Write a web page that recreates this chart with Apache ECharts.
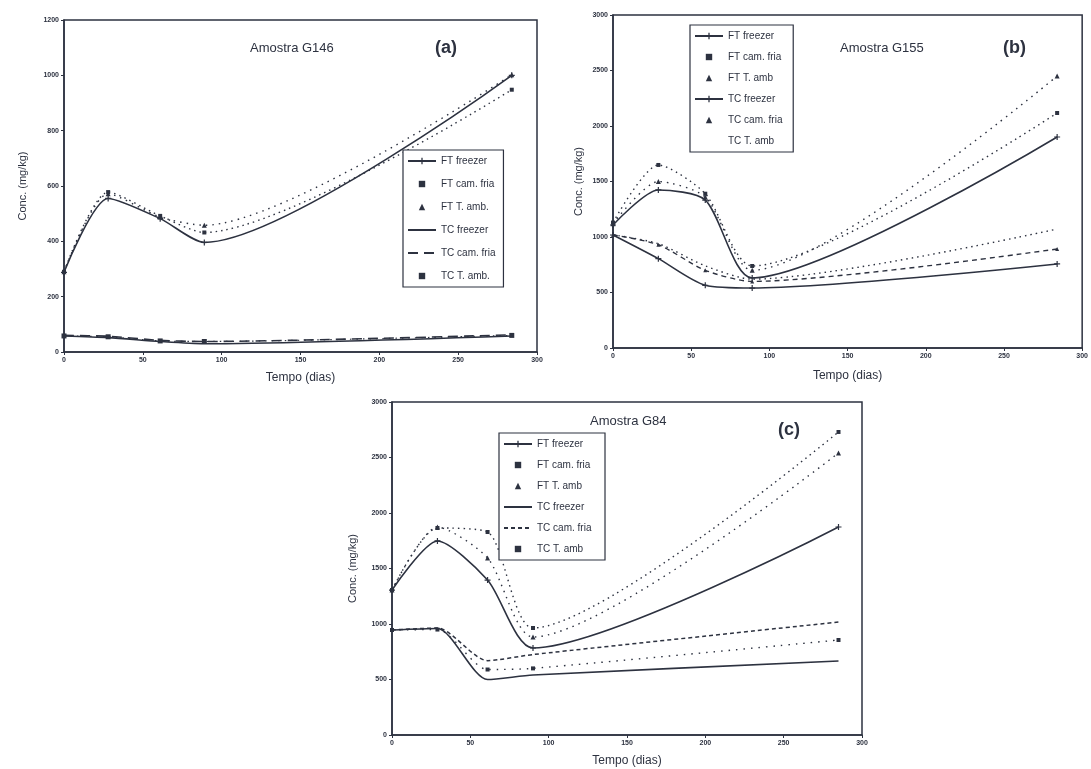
<!DOCTYPE html>
<html>
<head>
<meta charset="utf-8">
<script src="https://cdn.jsdelivr.net/npm/echarts@6/dist/echarts.min.js"></script>
<style>
  html, body { margin: 0; padding: 0; background: #fff; }
  #chart { width: 1091px; height: 769px; }
</style>
</head>
<body>
<div id="chart"></div>
<script>
// tempo (dias) de cada amostragem
var diasA = [0, 28, 61, 89, 284];
var diasB = [0, 29, 59, 89, 284];
var diasC = [0, 29, 61, 90, 285];

// Amostra G146 (a)
var aFTfreezer = [288, 555, 482, 396, 1000];
var aFTcam = [290, 578, 492, 432, 948];
var aFTamb = [290, 572, 488, 458, 1002];
var aTCfreezer = [58, 52, 38, 30, 58];
var aTCcam = [60, 57, 42, 38, 62];
var aTCamb = [58, 55, 40, 38, 60];

// Amostra G155 (b)
var bFTfreezer = [1108, 1424, 1333, 631, 1901];
var bFTcam = [1130, 1649, 1390, 739, 2117];
var bFTamb = [1120, 1500, 1360, 700, 2450];
var bTCfreezer = [1018, 805, 565, 540, 757];
var bTCcam = [1020, 930, 700, 600, 892];
var bTCamb = [1020, 940, 740, 620, 1072];

// Amostra G84 (c)
var cFTfreezer = [1306, 1748, 1396, 784, 1874];
var cFTcam = [1306, 1865, 1829, 964, 2730];
var cFTamb = [1306, 1874, 1595, 883, 2541];
var cTCfreezer = [946, 960, 500, 540, 667];
var cTCcam = [946, 964, 670, 725, 1018];
var cTCamb = [946, 950, 590, 600, 856];

var ink = "#2d3240";
var plus = "path://M4,0h2v4h4v2h-4v4h-2v-4h-4v-2h4z";

function pares(dias, vals) {
  return vals.map(function(v, i) {
    return [dias[i], v];
  });
}

function serie(name, idx, dias, vals, symbol, size, line) {
  return {
    name: name,
    type: "line",
    xAxisIndex: idx,
    yAxisIndex: idx,
    smooth: 0.25,
    data: pares(dias, vals),
    symbol: symbol,
    symbolSize: size,
    showSymbol: symbol !== "none",
    itemStyle: { color: ink },
    lineStyle: { color: ink, width: line.width, type: line.type },
    z: 3
  };
}

function xAxisDe(idx) {
  return {
    gridIndex: idx,
    type: "value",
    min: 0,
    max: 300,
    interval: 50,
    name: "Tempo (dias)",
    nameLocation: "middle",
    nameGap: [20, 22, 20][idx],
    nameTextStyle: { fontSize: 12, color: ink, fontFamily: "Liberation Sans" },
    axisLine: { lineStyle: { color: ink, width: 1.5 } },
    axisTick: { show: true, length: 3, lineStyle: { color: ink } },
    axisLabel: { fontSize: 7, color: ink, fontWeight: "bold", margin: 5, formatter: function(v) { return String(v); } },
    splitLine: { show: false }
  };
}

function yAxisDe(idx, max, step) {
  return {
    gridIndex: idx,
    type: "value",
    min: 0,
    max: max,
    interval: step,
    name: "Conc. (mg/kg)",
    nameLocation: "middle",
    nameGap: [36, 29, 34][idx],
    nameTextStyle: { fontSize: 11, color: ink, fontFamily: "Liberation Sans" },
    axisLine: { lineStyle: { color: ink, width: 1.5 } },
    axisTick: { show: true, length: 3, lineStyle: { color: ink } },
    axisLabel: { fontSize: 7, color: ink, fontWeight: "bold", margin: 5, formatter: function(v) { return String(v); } },
    splitLine: { show: false }
  };
}

function legendaDe(nomes, left, top, w, gap) {
  return {
    orient: "vertical",
    left: left,
    top: top,
    width: w,
    padding: [6, 8, 6, 4],
    itemGap: gap,
    itemWidth: 28,
    itemHeight: 8,
    backgroundColor: "#fff",
    borderColor: ink,
    borderWidth: 1.2,
    borderRadius: 0,
    selectedMode: false,
    textStyle: { fontSize: 10, color: ink, fontFamily: "Liberation Sans" },
    data: nomes
  };
}

// item de legenda so com marcador / so com linha
function marca(nome) {
  return { name: nome, lineStyle: { width: 0, opacity: 0 } };
}
function linha(nome) {
  return { name: nome, itemStyle: { opacity: 0 } };
}

var chart = echarts.init(document.getElementById("chart"));

chart.setOption({
  backgroundColor: "#fff",
  animation: false,
  title: [
    { text: "Amostra G146", left: 245, top: 37, textStyle: { fontSize: 13, fontWeight: "normal", color: ink, fontFamily: "Liberation Sans" } },
    { text: "(a)", left: 430, top: 34, textStyle: { fontSize: 18, fontWeight: "bold", color: ink, fontFamily: "Liberation Sans" } },
    { text: "Amostra G155", left: 835, top: 37, textStyle: { fontSize: 13, fontWeight: "normal", color: ink, fontFamily: "Liberation Sans" } },
    { text: "(b)", left: 998, top: 34, textStyle: { fontSize: 18, fontWeight: "bold", color: ink, fontFamily: "Liberation Sans" } },
    { text: "Amostra G84", left: 585, top: 410, textStyle: { fontSize: 13, fontWeight: "normal", color: ink, fontFamily: "Liberation Sans" } },
    { text: "(c)", left: 773, top: 416, textStyle: { fontSize: 18, fontWeight: "bold", color: ink, fontFamily: "Liberation Sans" } }
  ],
  grid: [
    { left: 64, right: 554, top: 20, bottom: 417, show: true, borderColor: ink, borderWidth: 1.5, backgroundColor: "#fff" },
    { left: 613, right: 6, top: 15, bottom: 421, show: true, borderColor: ink, borderWidth: 1.5, backgroundColor: "#fff" },
    { left: 392, right: 229, top: 402, bottom: 34, show: true, borderColor: ink, borderWidth: 1.5, backgroundColor: "#fff" }
  ],
  xAxis: [xAxisDe(0), xAxisDe(1), xAxisDe(2)],
  yAxis: [yAxisDe(0, 1200, 200), yAxisDe(1, 3000, 500), yAxisDe(2, 3000, 500)],
  legend: [
    legendaDe([
      "FT freezer",
      marca("FT cam. fria"),
      marca("FT T. amb."),
      linha("TC freezer"),
      linha("TC cam. fria"),
      marca("TC T. amb.")
    ], 403, 150, 130, 13),
    legendaDe([
      "FT freezer ",
      marca("FT cam. fria "),
      marca("FT T. amb"),
      "TC freezer ",
      marca("TC cam. fria "),
      { name: "TC T. amb", lineStyle: { width: 0, opacity: 0 }, itemStyle: { opacity: 0 } }
    ], 690, 25, 118, 11),
    legendaDe([
      "FT freezer",
      marca("FT cam. fria"),
      marca("FT T. amb"),
      linha("TC freezer"),
      linha("TC cam. fria  "),
      marca("TC T. amb  ")
    ], 499, 433, 128, 11)
  ],
  series: [
    // (a)
    serie("FT freezer", 0, diasA, aFTfreezer, plus, 6, { width: 1.6, type: "solid" }),
    serie("FT cam. fria", 0, diasA, aFTcam, "rect", 4, { width: 1.4, type: [1.5, 4] }),
    serie("FT T. amb.", 0, diasA, aFTamb, "triangle", 5, { width: 1.4, type: [1.5, 5] }),
    serie("TC freezer", 0, diasA, aTCfreezer, "none", 4, { width: 1.6, type: "solid" }),
    serie("TC cam. fria", 0, diasA, aTCcam, "none", 4, { width: 1.6, type: [10, 6] }),
    serie("TC T. amb.", 0, diasA, aTCamb, "rect", 5, { width: 1.2, type: [1.5, 5] }),
    // (b)
    serie("FT freezer ", 1, diasB, bFTfreezer, plus, 6, { width: 1.6, type: "solid" }),
    serie("FT cam. fria ", 1, diasB, bFTcam, "rect", 4, { width: 1.4, type: [1.5, 4] }),
    serie("FT T. amb", 1, diasB, bFTamb, "triangle", 5, { width: 1.4, type: [1.5, 5] }),
    serie("TC freezer ", 1, diasB, bTCfreezer, plus, 6, { width: 1.6, type: "solid" }),
    serie("TC cam. fria ", 1, diasB, bTCcam, "triangle", 4, { width: 1.4, type: [5, 4] }),
    serie("TC T. amb", 1, diasB, bTCamb, "none", 4, { width: 1.4, type: [1.5, 4] }),
    // (c)
    serie("FT freezer", 2, diasC, cFTfreezer, plus, 6, { width: 1.6, type: "solid" }),
    serie("FT cam. fria", 2, diasC, cFTcam, "rect", 4, { width: 1.4, type: [1.5, 4] }),
    serie("FT T. amb", 2, diasC, cFTamb, "triangle", 5, { width: 1.4, type: [1.5, 5] }),
    serie("TC freezer", 2, diasC, cTCfreezer, "none", 4, { width: 1.6, type: "solid" }),
    serie("TC cam. fria  ", 2, diasC, cTCcam, "none", 4, { width: 1.5, type: [4, 3] }),
    serie("TC T. amb  ", 2, diasC, cTCamb, "rect", 4, { width: 1.4, type: [1.5, 6] })
  ]
});
</script>
</body>
</html>
